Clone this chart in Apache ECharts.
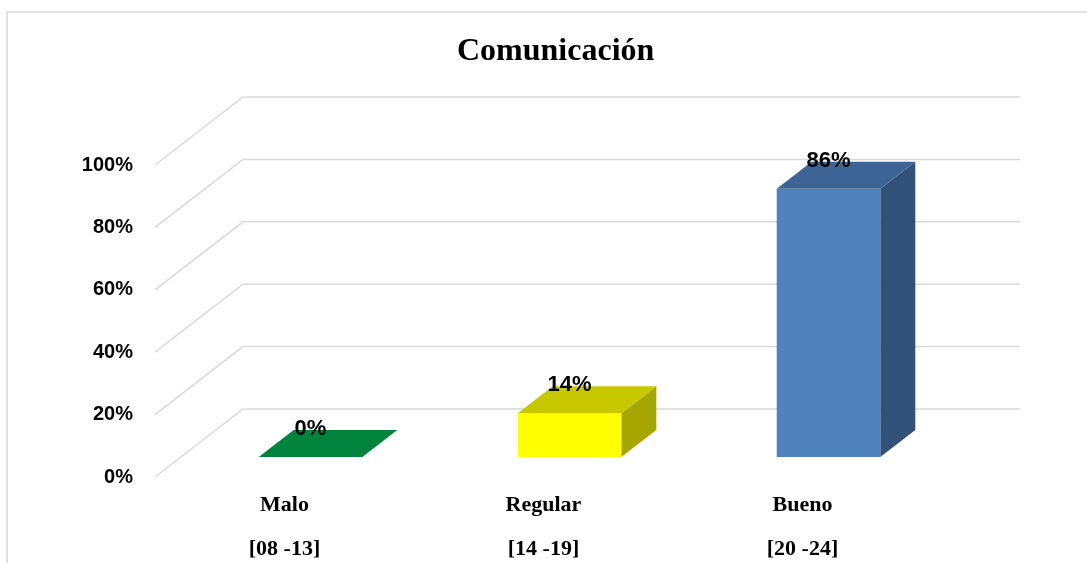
<!DOCTYPE html>
<html>
<head>
<meta charset="utf-8">
<title>Comunicación</title>
<script src="https://cdn.jsdelivr.net/npm/echarts@6.0.0/dist/echarts.min.js"></script>
<style>
	html, body { margin:0; padding:0; background:#fff; }
	#main { width:1087px; height:563px; }
</style>
</head>
<body>
<div id="main"></div>
<script>
// datos del grafico
var categorias = ['Malo', 'Regular', 'Bueno'];
var rangos = ['[08 -13]', '[14 -19]', '[20 -24]'];
var porcentajes = [0, 14, 86];
var ticksEje = [0, 20, 40, 60, 80, 100];

// colores por barra: frente, tapa, lado
var coloresFrente = ['#00843D', '#FFFF00', '#4F81BD'];
var coloresTapa = ['#00843D', '#C8C800', '#3D6494'];
var coloresLado = ['#00843D', '#A6A600', '#325179'];

var Comunicacionchart = {
	// profundidad de la pared y de las barras (pixeles)
	paredDx: 88,
	paredDy: -68,
	frenteDx: 26,
	frenteDy: -20,
	fondoDx: 35,
	fondoDy: -27,

	renderPared: function(params, api){
		var cs = params.coordSys;
		var y = api.coord([0, api.value(1)])[1];
		var x0 = cs.x;
		var x1 = cs.x + cs.width;
		var dx = Comunicacionchart.paredDx, dy = Comunicacionchart.paredDy;
		return {
			type: 'polyline',
			shape: { points: [[x0, y], [x0 + dx, y + dy], [x1 + dx, y + dy]] },
			style: { stroke: '#D9D9D9', lineWidth: 1.5, fill: null },
			silent: true
		};
	},

	renderBarra: function(params, api){
		var i = params.dataIndex;
		var top = api.coord([api.value(0), api.value(1)]);
		var base = api.coord([api.value(0), 0]);
		var ancho = api.size([1, 0])[0] * 0.4;
		var fx = Comunicacionchart.frenteDx, fy = Comunicacionchart.frenteDy;
		var bx = Comunicacionchart.fondoDx, by = Comunicacionchart.fondoDy;
		var xl = top[0] + fx - ancho / 2;
		var xr = top[0] + fx + ancho / 2;
		var yt = top[1] + fy;
		var yb = base[1] + fy;
		var hijos = [];
		if (yb - yt > 0.5) {
			hijos.push({
				type: 'polygon',
				shape: { points: [[xr, yt], [xr + bx, yt + by], [xr + bx, yb + by], [xr, yb]] },
				style: { fill: coloresLado[i] }
			});
			hijos.push({
				type: 'rect',
				shape: { x: xl, y: yt, width: ancho, height: yb - yt },
				style: { fill: coloresFrente[i] }
			});
		}
		hijos.push({
			type: 'polygon',
			shape: { points: [[xl, yt], [xr, yt], [xr + bx, yt + by], [xl + bx, yt + by]] },
			style: { fill: coloresTapa[i] }
		});
		hijos.push({
			type: 'text',
			x: top[0] + fx,
			y: yt - 28,
			style: {
				text: api.value(1) + '%',
				fill: '#000',
				font: 'bold 22px "Liberation Sans", Arial, sans-serif',
				align: 'center',
				verticalAlign: 'middle'
			}
		});
		return { type: 'group', children: hijos };
	},

	chartOptionfun: function(){
		var datosBarras = [];
		for (var i = 0; i < porcentajes.length; i++) {
			datosBarras.push([i, porcentajes[i]]);
		}
		var datosPared = [];
		for (var k = 0; k < ticksEje.length; k++) {
			datosPared.push([0, ticksEje[k]]);
		}

		var option = {
			backgroundColor: '#fff',
			animation: false,
			title: {
				text: 'Comunicación',
				left: 457,
				top: 36,
				padding: 0,
				textStyle: {
					fontFamily: '"Liberation Serif", "Times New Roman", serif',
					fontWeight: 'bold',
					fontSize: 32,
					color: '#000'
				}
			},
			graphic: [{
				type: 'rect',
				shape: { x: 7, y: 12, width: 1100, height: 600 },
				style: { fill: null, stroke: '#D9D9D9', lineWidth: 1.5 },
				silent: true
			}],
			grid: { left: 155, right: 155, top: 165, bottom: 86, outerBoundsMode: 'none', containLabel: false },
			xAxis: {
				type: 'category',
				data: categorias,
				axisLine: { show: false },
				axisTick: { show: false },
				axisLabel: {
					margin: 6,
					lineHeight: 44,
					fontFamily: '"Liberation Serif", "Times New Roman", serif',
					fontWeight: 'bold',
					fontSize: 22,
					color: '#000',
					formatter: function(valor, idx){
						return valor + '\n' + rangos[idx];
					}
				}
			},
			yAxis: {
				type: 'value',
				min: 0,
				max: 100,
				interval: 20,
				axisLine: { show: false },
				axisTick: { show: false },
				splitLine: { show: false },
				axisLabel: {
					margin: 22,
					formatter: '{value}%',
					fontFamily: '"Liberation Sans", Arial, sans-serif',
					fontWeight: 'bold',
					fontSize: 20,
					color: '#000'
				}
			},
			series: [{
				name: 'pared',
				type: 'custom',
				z: 1,
				silent: true,
				renderItem: Comunicacionchart.renderPared,
				data: datosPared
			}, {
				name: 'Comunicación',
				type: 'custom',
				z: 2,
				renderItem: Comunicacionchart.renderBarra,
				data: datosBarras
			}]
		};
		return option;
	},

	init: function(){
		var myChart = echarts.init(document.getElementById('main'));
		myChart.setOption(Comunicacionchart.chartOptionfun(), true);
	}
};

window.onload = function(){
	Comunicacionchart.init();
};
</script>
</body>
</html>
